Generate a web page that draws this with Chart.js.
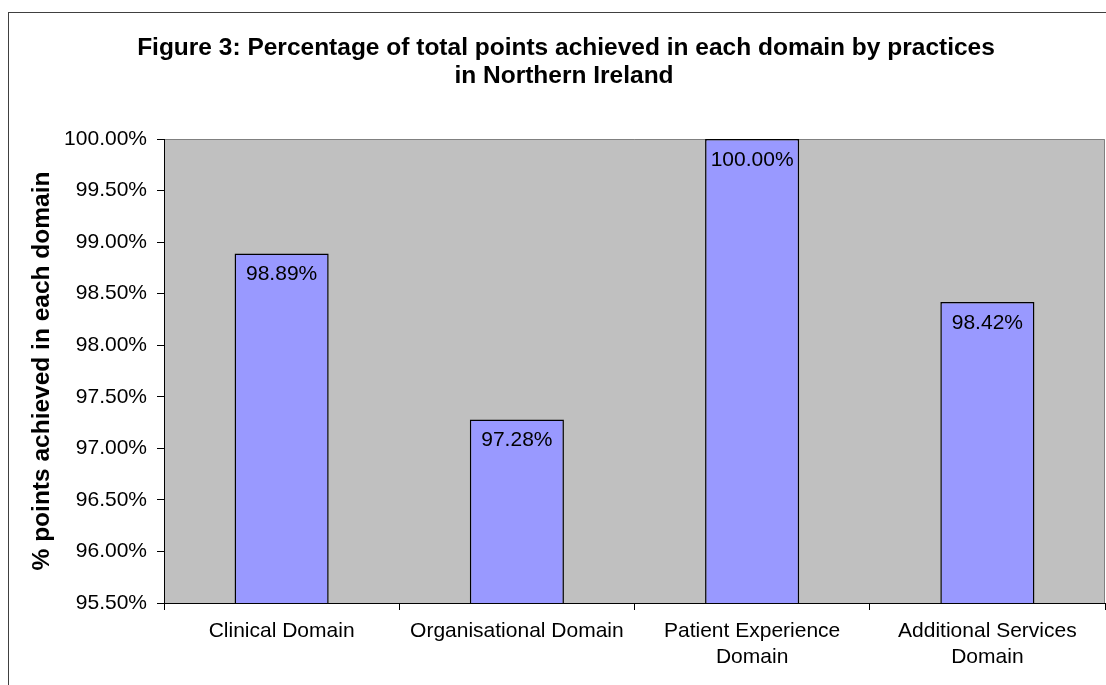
<!DOCTYPE html>
<html>
<head>
<meta charset="utf-8">
<script src="https://cdn.jsdelivr.net/npm/chart.js@4/dist/chart.umd.min.js"></script>
<style>
html,body{margin:0;padding:0;background:#fff;}
#wrap{position:relative;width:1106px;height:685px;}
</style>
</head>
<body>
<div id="wrap"><canvas id="c" width="1106" height="685"></canvas></div>
<script>
const categories = ["Clinical Domain", "Organisational Domain", ["Patient Experience", "Domain"], ["Additional Services", "Domain"]];
const values = [98.89, 97.28, 100.00, 98.42];
const titleLines = ["Figure 3: Percentage of total points achieved in each domain by practices", "in Northern Ireland"];
const yTitle = "% points achieved in each domain";
const yMin = 95.5, yMax = 100, yStep = 0.5;

const FONT = "'Liberation Sans', Arial, Helvetica, sans-serif";

const framePlugin = {
  id: 'frame',
  beforeDraw(chart) {
    const ctx = chart.ctx;
    const a = chart.chartArea;
    ctx.save();
    ctx.fillStyle = '#ffffff';
    ctx.fillRect(0, 0, chart.width, chart.height);
    // outer chart border
    ctx.strokeStyle = '#404040';
    ctx.lineWidth = 1;
    ctx.strokeRect(8.5, 12.5, 1300, 1000);
    // plot area
    ctx.fillStyle = '#C0C0C0';
    ctx.fillRect(a.left, a.top, a.right - a.left, a.bottom - a.top);
    ctx.strokeStyle = '#808080';
    ctx.beginPath();
    ctx.moveTo(a.left, a.top + 0.5);
    ctx.lineTo(a.right - 0.5, a.top + 0.5);
    ctx.lineTo(a.right - 0.5, a.bottom);
    ctx.stroke();
    // title
    ctx.fillStyle = '#000';
    ctx.font = "bold 24.5px " + FONT;
    ctx.textAlign = 'center';
    ctx.textBaseline = 'middle';
    ctx.fillText(titleLines[0], 566, 48);
    ctx.fillText(titleLines[1], 564, 76);
    ctx.restore();
  },
  afterDatasetsDraw(chart) {
    const ctx = chart.ctx;
    const meta = chart.getDatasetMeta(0);
    ctx.save();
    ctx.fillStyle = '#000';
    ctx.font = "21px " + FONT;
    ctx.textAlign = 'center';
    ctx.textBaseline = 'middle';
    meta.data.forEach((bar, i) => {
      ctx.fillText(values[i].toFixed(2) + '%', bar.x, bar.y + 21);
    });
    ctx.restore();
  }
};

new Chart(document.getElementById('c'), {
  type: 'bar',
  data: {
    labels: categories,
    datasets: [{
      data: values,
      backgroundColor: '#9999FF',
      borderColor: '#000000',
      borderWidth: 1.5,
      borderSkipped: false,
      barPercentage: 0.4,
      categoryPercentage: 1.0
    }]
  },
  options: {
    responsive: false,
    animation: false,
    devicePixelRatio: 1,
    layout: { padding: { top: 139, left: 8, right: 1, bottom: 0 } },
    plugins: { legend: { display: false }, title: { display: false }, tooltip: { enabled: false } },
    scales: {
      x: {
        offset: true,
        grid: { offset: true, drawOnChartArea: false, drawTicks: true, tickLength: 7, tickColor: '#000' },
        border: { display: true, color: '#000', width: 1 },
        ticks: { color: '#000', font: { family: FONT, size: 21, lineHeight: 1.2 }, padding: 9, maxRotation: 0, autoSkip: false },
        afterFit(s) { s.height = 82; }
      },
      y: {
        min: yMin, max: yMax,
        grid: { drawOnChartArea: false, drawTicks: true, tickLength: 7, tickColor: '#000' },
        border: { display: true, color: '#000', width: 1 },
        ticks: {
          stepSize: yStep, color: '#000', padding: 10,
          font: { family: FONT, size: 21 },
          callback: v => v.toFixed(2) + '%'
        },
        title: { display: true, text: yTitle, color: '#000', font: { family: FONT, size: 24.5, weight: 'bold' }, padding: { top: 20, bottom: 0 } },
        afterFit(s) { s.width = 156; }
      }
    }
  },
  plugins: [framePlugin]
});
</script>
</body>
</html>
